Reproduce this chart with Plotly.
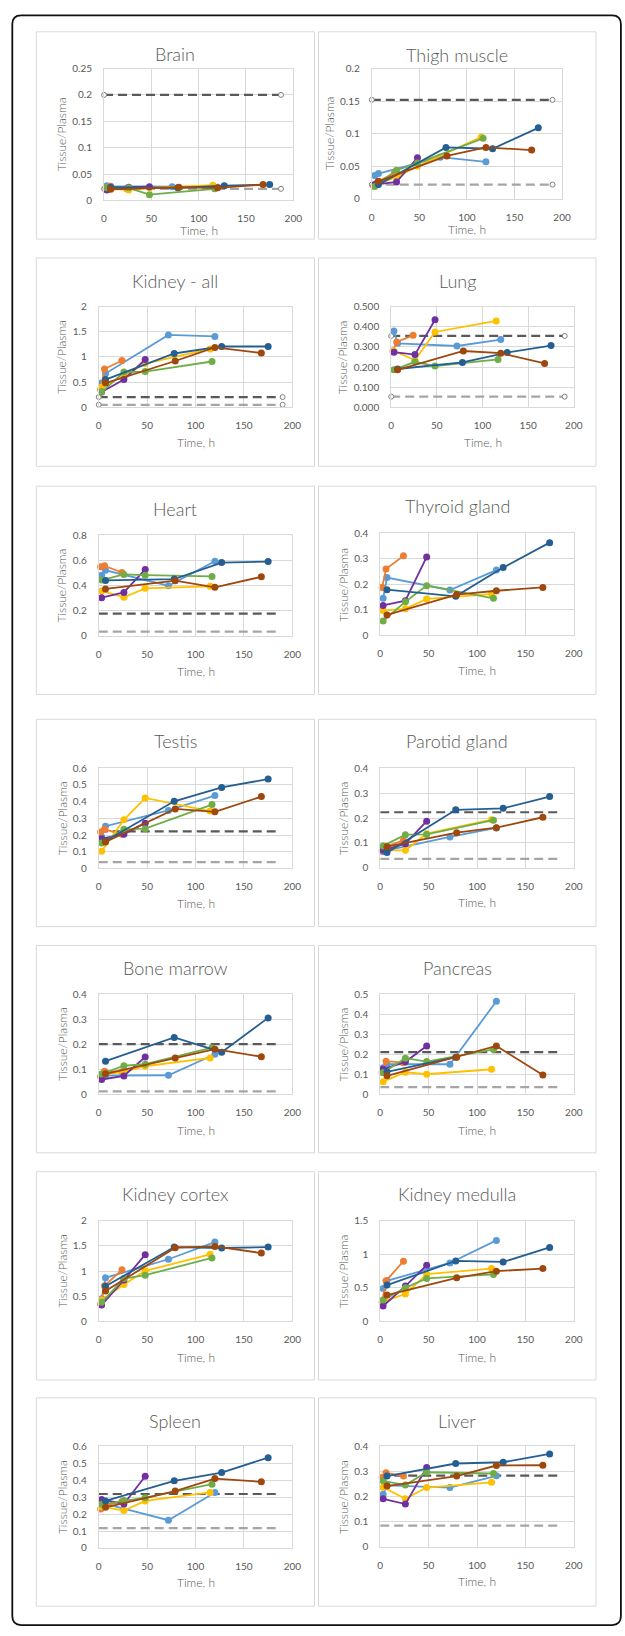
import plotly.graph_objects as go

W, H = 625, 1636

# Sampling times (h) of the seven animal series
T_LB = [3, 7, 72, 120]
T_OR = [2, 6, 24]
T_GD = [3, 26, 48, 115]
T_PU = [3, 26, 48]
T_GR = [3, 26, 48, 117]
T_DB = [7, 78, 127, 175]
T_BR = [7, 79, 120, 168]
TIMES = [T_LB, T_OR, T_GD, T_PU, T_GR, T_DB, T_BR]
COLORS = ["#5B9BD5", "#ED7D31", "#FFC000", "#7030A0", "#70AD47", "#255E91", "#9E480E"]

# Tissue/plasma ratios, one list per series (same order as TIMES)
brain = [[0.028, 0.027, 0.026, 0.025], [0.024, 0.027, 0.022], [0.022, 0.020, 0.024, 0.029],
         [0.020, 0.025, 0.026], [0.024, 0.024, 0.011, 0.022], [0.025, 0.024, 0.028, 0.030],
         [0.021, 0.025, 0.024, 0.030]]
thigh = [[0.036, 0.039, 0.064, 0.057], [0.020, 0.026, 0.040], [0.020, 0.034, 0.050, 0.095],
         [0.022, 0.026, 0.063], [0.019, 0.044, 0.055, 0.093], [0.022, 0.079, 0.077, 0.109],
         [0.027, 0.066, 0.079, 0.075]]
kidney_all = [[0.48, 0.67, 1.44, 1.41], [0.35, 0.76, 0.93], [0.40, 0.62, 0.87, 1.16],
              [0.30, 0.55, 0.95], [0.30, 0.70, 0.71, 0.91], [0.55, 1.07, 1.21, 1.21],
              [0.48, 0.92, 1.19, 1.08]]
lung = [[0.380, 0.318, 0.305, 0.337], [0.280, 0.325, 0.358], [0.280, 0.234, 0.375, 0.430],
        [0.274, 0.262, 0.436], [0.186, 0.226, 0.205, 0.238], [0.190, 0.223, 0.272, 0.307],
        [0.186, 0.280, 0.269, 0.218]]
heart = [[0.484, 0.523, 0.400, 0.595], [0.550, 0.558, 0.505], [0.358, 0.308, 0.379, 0.395],
         [0.305, 0.347, 0.530], [0.445, 0.490, 0.484, 0.474], [0.442, 0.453, 0.584, 0.592],
         [0.374, 0.440, 0.387, 0.471]]
thyroid = [[0.145, 0.227, 0.178, 0.256], [0.188, 0.260, 0.312], [0.097, 0.104, 0.143, 0.162],
           [0.117, 0.136, 0.308], [0.056, 0.132, 0.195, 0.145], [0.179, 0.153, 0.266, 0.364],
           [0.080, 0.160, 0.175, 0.188]]
testis = [[0.190, 0.253, 0.347, 0.436], [0.218, 0.234, 0.204], [0.103, 0.291, 0.422, 0.343],
          [0.178, 0.205, 0.271], [0.152, 0.234, 0.238, 0.382], [0.164, 0.402, 0.485, 0.535],
          [0.158, 0.356, 0.339, 0.430]]
parotid = [[0.064, 0.070, 0.124, 0.160], [0.068, 0.085, 0.110], [0.070, 0.070, 0.137, 0.193],
           [0.070, 0.097, 0.187], [0.088, 0.133, 0.134, 0.191], [0.061, 0.233, 0.239, 0.286],
           [0.085, 0.141, 0.161, 0.203]]
bone_marrow = [[0.075, 0.075, 0.076, 0.160], [0.071, 0.092, 0.090], [0.079, 0.090, 0.112, 0.145],
               [0.059, 0.073, 0.149], [0.081, 0.114, 0.120, 0.186], [0.132, 0.227, 0.168, 0.305],
               [0.082, 0.145, 0.180, 0.150]]
pancreas = [[0.132, 0.150, 0.150, 0.464], [0.109, 0.165, 0.158], [0.063, 0.110, 0.100, 0.125],
            [0.125, 0.162, 0.241], [0.109, 0.180, 0.163, 0.224], [0.112, 0.185, None, None],
            [0.092, 0.185, 0.241, 0.096]]
kidney_cortex = [[0.45, 0.866, 1.233, 1.574], [0.34, 0.708, 1.023], [0.426, 0.734, 1.003, 1.331],
                 [0.328, 0.820, 1.325], [0.38, 0.852, 0.918, 1.259], [0.70, 1.475, 1.456, 1.475],
                 [0.603, 1.462, 1.488, 1.357]]
kidney_medulla = [[0.49, 0.605, 0.87, 1.205], [0.29, 0.605, 0.895], [0.295, 0.408, 0.703, 0.787],
                  [0.23, 0.526, 0.836], [0.32, 0.50, 0.64, 0.70], [0.541, 0.90, 0.885, 1.10],
                  [0.393, 0.649, 0.748, 0.787]]
spleen = [[0.254, 0.260, 0.164, 0.328], [0.231, 0.250, 0.275], [0.244, 0.221, 0.278, 0.328],
          [0.287, 0.260, 0.424], [0.258, 0.280, 0.297, 0.377], [0.278, 0.397, 0.446, 0.534],
          [0.240, 0.336, 0.410, 0.391]]
liver = [[0.209, 0.245, 0.236, 0.283], [0.276, 0.295, 0.282], [0.237, 0.191, 0.236, 0.257],
         [0.191, 0.170, 0.316], [0.263, 0.246, 0.297, 0.292], [0.282, 0.332, 0.337, 0.370],
         [0.242, 0.282, 0.324, 0.325]]

# Reference levels (upper, lower) drawn as dashed lines
REF_BRAIN = (0.200, 0.022)
REF_THIGH = (0.152, 0.022)
REF_KIDNEY = (0.200, 0.046)
REF_LUNG = (0.355, 0.052)
REF_HEART = (0.178, 0.034)
REF_TESTIS = (0.222, 0.038)
REF_PAROTID = (0.223, 0.036)
REF_BONE = (0.200, 0.012)
REF_PANCREAS = (0.210, 0.036)
REF_SPLEEN = (0.319, 0.117)
REF_LIVER = (0.284, 0.084)

TITLES = ["Brain", "Thigh muscle", "Kidney - all", "Lung", "Heart", "Thyroid gland",
          "Testis", "Parotid gland", "Bone marrow", "Pancreas", "Kidney cortex",
          "Kidney medulla", "Spleen", "Liver"]
DATA = [brain, thigh, kidney_all, lung, heart, thyroid, testis, parotid, bone_marrow,
        pancreas, kidney_cortex, kidney_medulla, spleen, liver]
REFS = [REF_BRAIN, REF_THIGH, REF_KIDNEY, REF_LUNG, REF_HEART, None, REF_TESTIS,
        REF_PAROTID, REF_BONE, REF_PANCREAS, None, None, REF_SPLEEN, REF_LIVER]
YMAX = [0.25, 0.2, 2, 0.5, 0.8, 0.4, 0.6, 0.4, 0.4, 0.5, 2, 1.5, 0.6, 0.4]
YSTEP = [0.05, 0.05, 0.5, 0.1, 0.2, 0.1, 0.1, 0.1, 0.1, 0.1, 0.5, 0.5, 0.1, 0.1]
YFMT = ["", "", "", ".3f", "", "", "", "", "", "", "", "", "", ""]

# ---- layout geometry in pixels ----
ROWS = [(25, 234), (253, 463), (483, 693), (718, 927), (946, 1155), (1174, 1384), (1402, 1612)]
BOX_X = [(34, 317.6), (321.6, 604.6)]
# plot area: left, right, top, bottom
PLOT = [(103, 296, 62, 195), (376, 570, 62, 193.5),
        (97.6, 295, 302.3, 403.3), (395.8, 582, 302.3, 403.3),
        (97.6, 295, 532.7, 634), (384.6, 582, 530.7, 633.3),
        (97.6, 295, 767.3, 868.3), (384.6, 582, 767.3, 867.7),
        (97.6, 295, 995, 1096), (384.6, 582, 995, 1096),
        (97.6, 295, 1223.3, 1325), (384.6, 582, 1223.3, 1325),
        (97.6, 295, 1451, 1553.3), (384.6, 582, 1451, 1552)]
TITLE_Y = [47.7, 48, 275.7, 275.7, 505.7, 503, 740, 740, 968.3, 968.3, 1196.7, 1196.7, 1425, 1425]
XLAB_DY = [30, 31, 36, 36, 36, 36, 35, 35, 36, 36, 36, 36, 35, 35]
YLAB_X = [60, 333, 60, 347, 60, 347, 60, 347, 60, 347, 60, 347, 60, 347]
REF_END = [187, 190, 190, 190, 183, 183, 183, 183, 183, 183, 183, 183, 183, 183]
REF_MARKERS = [True, True, True, True] + [False] * 10


def fx(px):
    return px / W


def fy(py):
    return 1 - py / H


FONT = "Lato, 'Open Sans', sans-serif"
TXT = "#595959"
GRID = "#D9D9D9"

fig = go.Figure()
shapes = []
annotations = []

# Outer rounded frame
x0, y0, x1, y1, r = 9.5, 8.5, 630, 1631, 9
path = (f"M {fx(x0 + r)} {fy(y0)} L {fx(x1 - r)} {fy(y0)} Q {fx(x1)} {fy(y0)} {fx(x1)} {fy(y0 + r)} "
        f"L {fx(x1)} {fy(y1 - r)} Q {fx(x1)} {fy(y1)} {fx(x1 - r)} {fy(y1)} "
        f"L {fx(x0 + r)} {fy(y1)} Q {fx(x0)} {fy(y1)} {fx(x0)} {fy(y1 - r)} "
        f"L {fx(x0)} {fy(y0 + r)} Q {fx(x0)} {fy(y0)} {fx(x0 + r)} {fy(y0)} Z")
shapes.append(dict(type="path", xref="paper", yref="paper", path=path,
                   line=dict(color="#111111", width=1.8), layer="below"))

for i, title in enumerate(TITLES):
    row, col = divmod(i, 2)
    ax = "" if i == 0 else str(i + 1)
    xa, ya = "x" + ax, "y" + ax
    bx0, bx1 = BOX_X[col]
    by0, by1 = ROWS[row]
    shapes.append(dict(type="rect", xref="paper", yref="paper",
                       x0=fx(bx0), x1=fx(bx1), y0=fy(by1), y1=fy(by0),
                       line=dict(color=GRID, width=1), fillcolor="white", layer="below"))
    pl, pr, pt, pb = PLOT[i]

    fig.layout["xaxis" + ax] = dict(
        domain=[fx(pl), fx(pr)], range=[0, 200], dtick=50, tick0=0, anchor=ya,
        showgrid=True, gridcolor=GRID, gridwidth=1, zeroline=False,
        showline=True, linecolor=GRID, linewidth=1, mirror=True, ticks="",
        ticklabelstandoff=9, tickfont=dict(family=FONT, size=10, color=TXT), fixedrange=True)
    yaxis = dict(
        domain=[fy(pb), fy(pt)], range=[0, YMAX[i]], dtick=YSTEP[i], tick0=0, anchor=xa,
        showgrid=True, gridcolor=GRID, gridwidth=1, zeroline=False,
        showline=True, linecolor=GRID, linewidth=1, mirror=True, ticks="",
        ticklabelstandoff=9, tickfont=dict(family=FONT, size=10, color=TXT), fixedrange=True)
    if YFMT[i]:
        yaxis["tickformat"] = YFMT[i]
    fig.layout["yaxis" + ax] = yaxis

    # Dashed reference levels
    ref = REFS[i]
    if ref is not None:
        for level, color in zip(ref, ["#595959", "#A5A5A5"]):
            mode = "lines+markers" if REF_MARKERS[i] else "lines"
            fig.add_trace(go.Scatter(
                x=[0, REF_END[i]], y=[level, level], mode=mode, xaxis=xa, yaxis=ya,
                line=dict(color=color, width=2.2, dash="9px,5px"),
                marker=dict(size=5, color="white", line=dict(color="#7F7F7F", width=1)),
                cliponaxis=False, showlegend=False, hoverinfo="skip"))

    # Animal series
    for t, vals, color in zip(TIMES, DATA[i], COLORS):
        fig.add_trace(go.Scatter(
            x=t, y=vals, mode="lines+markers", xaxis=xa, yaxis=ya,
            line=dict(color=color, width=1.8), marker=dict(size=7, color=color),
            connectgaps=True, cliponaxis=False, showlegend=False))

    # Texts
    annotations.append(dict(text=title, xref="paper", yref="paper",
                            x=fx((bx0 + bx1) / 2), y=fy(TITLE_Y[i]), xanchor="center", yanchor="middle",
                            showarrow=False, font=dict(family=FONT, size=18, color=TXT, weight=300)))
    annotations.append(dict(text="Time, h", xref="paper", yref="paper",
                            x=fx((pl + pr) / 2), y=fy(pb + XLAB_DY[i]), xanchor="center", yanchor="middle",
                            showarrow=False, font=dict(family=FONT, size=12, color=TXT, weight=300)))
    annotations.append(dict(text="Tissue/Plasma", xref="paper", yref="paper", textangle=-90,
                            x=fx(YLAB_X[i]), y=fy((pt + pb) / 2), xanchor="center", yanchor="middle",
                            showarrow=False, font=dict(family=FONT, size=12, color=TXT, weight=300)))

fig.update_layout(width=W, height=H, margin=dict(l=0, r=0, t=0, b=0),
                  paper_bgcolor="white", plot_bgcolor="rgba(0,0,0,0)",
                  shapes=shapes, annotations=annotations, showlegend=False)

fig.write_html("out.html", config={"displayModeBar": False})
